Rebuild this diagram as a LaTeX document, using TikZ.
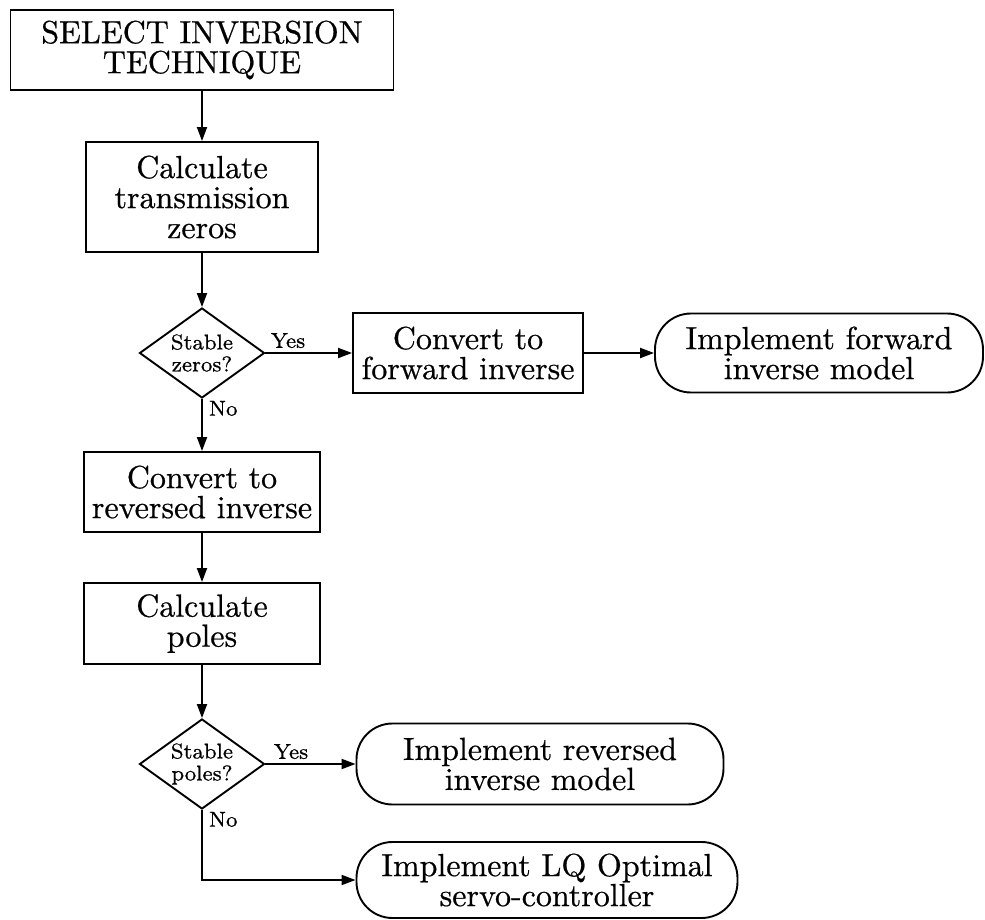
\documentclass[tikz,border=0pt]{standalone}
\usepackage{fontspec}
\setmainfont{lmroman10-regular.otf}[FakeBold=0.6]
\newfontface\smallrm{lmroman8-regular.otf}[FakeBold=0.6]
\usetikzlibrary{shapes.geometric,arrows.meta}

\begin{document}
\begin{tikzpicture}[x=1pt,y=-1pt,
  line width=1.9pt,
  bigtext/.style={font=\fontsize{32}{30}\selectfont},
  smalltext/.style={font=\fontsize{21.5}{22}\smallrm},
  box/.style={draw, rectangle, inner sep=0pt, align=center, bigtext},
  term/.style={draw, rectangle, rounded corners=36pt, inner sep=0pt, align=center, bigtext},
  test/.style={draw, diamond, aspect=1.4, inner sep=0pt, align=center,
               minimum width=125pt, minimum height=90pt, smalltext},
  lbl/.style={inner sep=0pt, smalltext},
  flow/.style={-{Triangle[length=14pt,width=10pt]}},
]
\useasboundingbox (0,0) rectangle (985,920);

% main column
\node[box, minimum width=383pt, minimum height=80pt] (sel) at (202,50)
  {SELECT INVERSION\\TECHNIQUE};
\node[box, minimum width=232pt, minimum height=110pt] (calz) at (202,197)
  {Calculate\\transmission\\zeros};
\node[test] (dz) at (202,353) {Stable\\zeros?};
\node[box, minimum width=236pt, minimum height=80pt] (rev) at (202,492)
  {Convert to\\reversed inverse};
\node[box, minimum width=236pt, minimum height=81pt] (calp) at (202,623.5)
  {Calculate\\poles};
\node[test] (dp) at (202,764) {Stable\\poles?};

% forward branch
\node[box, minimum width=230pt, minimum height=80pt] (fwd) at (468,353)
  {Convert to\\forward inverse};
\node[term, minimum width=328pt, minimum height=79pt] (impf) at (819,353)
  {Implement forward\\inverse model};

% terminal outcomes of the pole test
\node[term, minimum width=367pt, minimum height=81pt] (impr) at (540,764)
  {Implement reversed\\inverse model};
\node[term, minimum width=381pt, minimum height=76pt] (lq) at (547,880)
  {Implement LQ Optimal\\servo-controller};

% connectors
\draw[flow] (sel) -- (calz);
\draw[flow] (calz) -- (dz);
\draw[flow] (dz.east) -- (fwd.west);
\draw[flow] (fwd) -- (impf);
\draw[flow] (dz) -- (rev);
\draw[flow] (rev) -- (calp);
\draw[flow] (calp) -- (dp);
\draw[flow] (dp.east) -- (impr.west);
\draw[flow] (dp.south) |- (lq.west);

% branch labels
\node[lbl, anchor=south] (yz) at (288,349) {Yes};
\node[lbl, anchor=north west] (nz) at (208,400) {No};
\node[lbl, anchor=south] (yp) at (291,760) {Yes};
\node[lbl, anchor=north west] (np) at (208,811) {No};
\end{tikzpicture}
\end{document}
